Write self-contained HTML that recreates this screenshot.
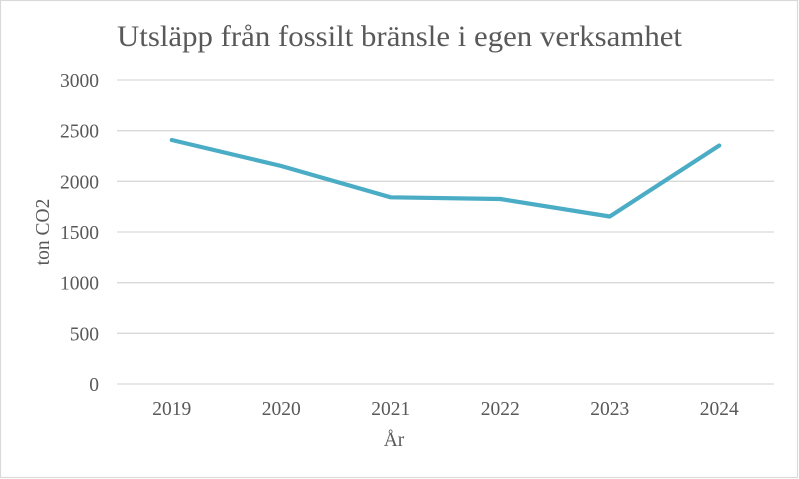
<!DOCTYPE html>
<html>
<head>
<meta charset="utf-8">
<style>
  html, body { margin: 0; padding: 0; background: #ffffff; }
  body { width: 799px; height: 479px; overflow: hidden; }
  svg { display: block; }
  text { font-family: "Liberation Serif", "Times New Roman", serif; fill: #595959; }
</style>
</head>
<body>
<svg width="799" height="479" viewBox="0 0 799 479" xmlns="http://www.w3.org/2000/svg">
  <rect x="0" y="0" width="799" height="479" fill="#ffffff"/>
  <rect x="0.5" y="0.5" width="797" height="477" fill="none" stroke="#d9d9d9" stroke-width="1.2"/>

  <!-- Title -->
  <text x="117" y="46" font-size="30" textLength="565" lengthAdjust="spacingAndGlyphs">Utsläpp från fossilt bränsle i egen verksamhet</text>

  <!-- Gridlines -->
  <g stroke="#d9d9d9" stroke-width="1.3">
    <line x1="117" y1="80" x2="774" y2="80"/>
    <line x1="117" y1="130.7" x2="774" y2="130.7"/>
    <line x1="117" y1="181.3" x2="774" y2="181.3"/>
    <line x1="117" y1="232" x2="774" y2="232"/>
    <line x1="117" y1="282.7" x2="774" y2="282.7"/>
    <line x1="117" y1="333.3" x2="774" y2="333.3"/>
    <line x1="117" y1="384" x2="774" y2="384"/>
  </g>

  <!-- Y tick labels -->
  <g font-size="19.5" text-anchor="end">
    <text x="99" y="87">3000</text>
    <text x="99" y="137.7">2500</text>
    <text x="99" y="188.3">2000</text>
    <text x="99" y="239">1500</text>
    <text x="99" y="289.7">1000</text>
    <text x="99" y="340.3">500</text>
    <text x="99" y="391">0</text>
  </g>

  <!-- X tick labels -->
  <g font-size="19.5" text-anchor="middle">
    <text x="171.75" y="415">2019</text>
    <text x="281.25" y="415">2020</text>
    <text x="390.75" y="415">2021</text>
    <text x="500.25" y="415">2022</text>
    <text x="609.75" y="415">2023</text>
    <text x="719.25" y="415">2024</text>
  </g>

  <!-- Axis titles -->
  <text x="394" y="446" font-size="19.5" text-anchor="middle">År</text>
  <text transform="translate(49,232) rotate(-90)" x="0" y="0" font-size="19.5" text-anchor="middle">ton CO2</text>

  <!-- Series -->
  <polyline fill="none" stroke="#4bacc6" stroke-width="4.2" stroke-linejoin="round" stroke-linecap="round"
    points="171.75,140 281.25,166 390.75,197.3 500.25,199 609.75,216.5 719.25,145.5"/>
</svg>
</body>
</html>
